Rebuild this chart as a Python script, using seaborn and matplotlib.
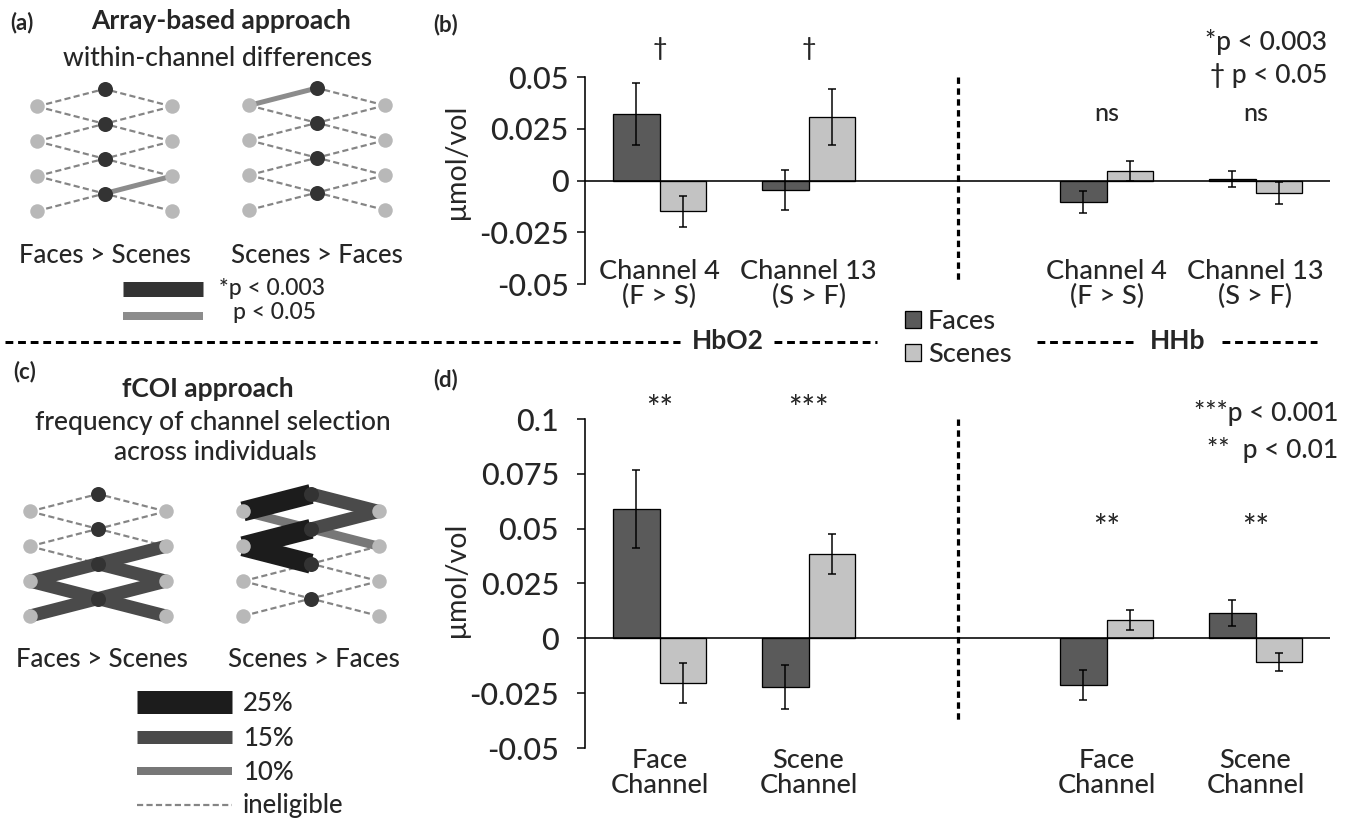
import matplotlib
matplotlib.use("Agg")
import matplotlib.pyplot as plt
import pandas as pd
import seaborn as sns

# ---------------- data ----------------
conditions = ["Faces", "Scenes"]

# (b) array-based approach
b_groups = ["HbO2 Ch4", "HbO2 Ch13", "HHb Ch4", "HHb Ch13"]
b_labels = ["Channel 4\n(F > S)", "Channel 13\n(S > F)", "Channel 4\n(F > S)", "Channel 13\n(S > F)"]
b_faces = [0.0322, -0.0045, -0.0104, 0.0008]
b_faces_err = [0.0151, 0.0096, 0.0054, 0.0038]
b_scenes = [-0.0149, 0.0306, 0.0045, -0.0060]
b_scenes_err = [0.0075, 0.0136, 0.0048, 0.0055]
b_marks = ["\u2020", "\u2020", "ns", "ns"]
b_yticks = [-0.05, -0.025, 0, 0.025, 0.05]
b_yticklabels = ["-0.05", "-0.025", "0", "0.025", "0.05"]

# (d) fCOI approach
d_groups = ["HbO2 Face", "HbO2 Scene", "HHb Face", "HHb Scene"]
d_labels = ["Face\nChannel", "Scene\nChannel", "Face\nChannel", "Scene\nChannel"]
d_faces = [0.0591, -0.0223, -0.0211, 0.0115]
d_faces_err = [0.0178, 0.0101, 0.0068, 0.0058]
d_scenes = [-0.0203, 0.0386, 0.0085, -0.0109]
d_scenes_err = [0.0091, 0.0091, 0.0046, 0.0041]
d_marks = ["**", "***", "**", "**"]
d_yticks = [-0.05, -0.025, 0, 0.025, 0.05, 0.075, 0.1]
d_yticklabels = ["-0.05", "-0.025", "0", "0.025", "0.05", "0.075", "0.1"]

# channel diagrams: 14 channels, each code per channel
# channel order: left side (grey row, dark row) then right side
a_faces_gt_scenes = ["", "", "", "", "", "", "",
                     "", "", "", "", "", "p<0.05", ""]
a_scenes_gt_faces = ["p<0.05", "", "", "", "", "", "",
                     "", "", "", "", "", "", ""]
c_faces_gt_scenes = [0, 0, 0, 0, 15, 15, 15,
                     0, 0, 0, 15, 15, 15, 15]
c_scenes_gt_faces = [25, 10, 25, 25, 0, 0, 0,
                     15, 15, 10, 0, 0, 0, 0]

# ---------------- style / layout ----------------
sns.set_theme(style="white")
plt.rcParams["font.family"] = ["Lato", "DejaVu Sans"]
plt.rcParams["font.weight"] = "medium"
plt.rcParams["axes.unicode_minus"] = False

W, H = 1354, 822
PX = 0.72  # points per pixel at dpi 100
fig = plt.figure(figsize=(W / 100, H / 100), dpi=100, facecolor="white")


def px_axes(x0, y0, x1, y1):
    return fig.add_axes([x0 / W, 1 - y1 / H, (x1 - x0) / W, (y1 - y0) / H])


ov = px_axes(0, 0, W, H)
ov.set_xlim(0, W)
ov.set_ylim(H, 0)
ov.axis("off")

BAR_W = 0.62
PALETTE = {"Faces": "#5a5a5a", "Scenes": "#c3c3c3"}


def bar_panel(box, groups, labels, faces, faces_err, scenes, scenes_err,
              marks, mark_y, yticks, yticklabels, ylim, ytick_pad, xtick_pad,
              ylabel_y, vline_bottom, legend=False):
    ax = px_axes(*box)
    ax.set_facecolor("none")
    slots = groups[:2] + ["gap"] + groups[2:]
    df = pd.DataFrame({
        "group": groups * 2,
        "condition": ["Faces"] * len(groups) + ["Scenes"] * len(groups),
        "value": faces + scenes,
        "err": faces_err + scenes_err,
    })
    sns.barplot(data=df, x="group", y="value", hue="condition", order=slots,
                hue_order=conditions, palette=PALETTE, saturation=1,
                width=BAR_W, edgecolor="black", linewidth=1.3 * PX,
                errorbar=None, legend=legend, ax=ax, zorder=2)
    offs = {"Faces": -BAR_W / 4, "Scenes": BAR_W / 4}
    for cond in conditions:
        sub = df[df["condition"] == cond]
        xs = [slots.index(g) + offs[cond] for g in sub["group"]]
        ax.errorbar(xs, sub["value"], yerr=sub["err"], fmt="none",
                    ecolor="black", elinewidth=1.5 * PX, capsize=3.2,
                    capthick=1.5 * PX, zorder=5)
    ax.axhline(0, color="black", lw=1.6 * PX, zorder=4)
    gap = slots.index("gap")
    ax.plot([gap, gap], [ylim[1], vline_bottom], color="black", lw=3.2 * PX,
            ls=(0, (2.0, 1.4)), zorder=3)
    pos = [slots.index(g) for g in groups]
    for p, m, y in zip(pos, marks, mark_y):
        fs = 23 if "*" in m else 18
        yy = y - (ylim[1] - ylim[0]) * 0.012 if "*" in m else y
        ax.text(p, yy, m, ha="center", va="center", fontsize=fs)
    ax.set_xlim(-0.5, 4.5)
    ax.set_ylim(*ylim)
    ax.set_yticks(yticks)
    ax.set_yticklabels(yticklabels, fontsize=22)
    ax.set_xticks(pos)
    ax.set_xticklabels(labels, fontsize=19.5)
    for t in ax.get_xticklabels():
        t.set_linespacing(1.0)
    ax.tick_params(axis="y", left=True, direction="out", length=8 * PX,
                   width=1.5 * PX, color="black", pad=ytick_pad)
    ax.tick_params(axis="x", bottom=True, length=0, pad=xtick_pad)
    for s in ["top", "right", "bottom"]:
        ax.spines[s].set_visible(False)
    ax.spines["left"].set_color("black")
    ax.spines["left"].set_linewidth(1.6 * PX)
    ax.set_xlabel("")
    ax.set_ylabel("\u03bcmol/vol", fontsize=20.5, va="center")
    ax.yaxis.set_label_coords(-0.172, ylabel_y)
    return ax


ax_b = bar_panel((585, 77, 1330, 284), b_groups, b_labels, b_faces, b_faces_err,
                 b_scenes, b_scenes_err, b_marks, [0.064, 0.064, 0.0325, 0.0325],
                 b_yticks, b_yticklabels, (-0.05, 0.05), 6, -18, 0.59, -0.05,
                 legend=True)
ax_d = bar_panel((585, 419, 1330, 748), d_groups, d_labels, d_faces, d_faces_err,
                 d_scenes, d_scenes_err, d_marks, [0.106, 0.106, 0.0515, 0.0515],
                 d_yticks, d_yticklabels, (-0.05, 0.1), 13, 0, 0.51, -0.038)

sns.move_legend(ax_b, loc="upper left", bbox_to_anchor=(905 / W, 1 - 309 / H),
                bbox_transform=fig.transFigure, frameon=False, title=None,
                fontsize=19.5, handlelength=0.6, handleheight=0.6,
                handletextpad=0.25, labelspacing=0.3, borderpad=0,
                borderaxespad=0)

# ---------------- channel diagrams ----------------
CHANNELS = [("L", 0, 0), ("L", 0, 1), ("L", 1, 1), ("L", 1, 2), ("L", 2, 2),
            ("L", 2, 3), ("L", 3, 3), ("R", 0, 0), ("R", 0, 1), ("R", 1, 1),
            ("R", 1, 2), ("R", 2, 2), ("R", 2, 3), ("R", 3, 3)]
SIDE_X = {"L": 0, "R": 2}

A_STYLE = {"p<0.05": ("#8c8c8c", 5, 1), "p<0.003": ("#333333", 8, 2)}
C_STYLE = {10: ("#777777", 9, 1), 15: ("#4a4a4a", 13, 2), 25: ("#1c1c1c", 20, 3)}


def diagram(xl, xr, ytop, ybot, codes, styles):
    m = 25
    ax = px_axes(xl - m, ytop - m, xr + m, ybot + m)
    sx = (xr - xl) / 2
    sy = (ybot - ytop) / 3.5
    ax.set_xlim(-m / sx, 2 + m / sx)
    ax.set_ylim(3.5 + m / sy, -m / sy)
    ax.axis("off")
    for (side, g, d), code in zip(CHANNELS, codes):
        xs = [SIDE_X[side], 1]
        ys = [g + 0.5, d]
        if code in styles:
            col, lw, z = styles[code]
            ax.plot(xs, ys, color=col, lw=lw * PX, solid_capstyle="butt",
                    zorder=2 + z)
        else:
            ax.plot(xs, ys, color="#858585", lw=2.2 * PX, ls=(0, (2.8, 1.5)),
                    zorder=1)
    rows = [0, 1, 2, 3]
    for sx_ in (0, 2):
        ax.plot([sx_] * 4, [r + 0.5 for r in rows], "o", color="#b8b8b8",
                ms=14.5 * PX, mec="none", zorder=10)
    ax.plot([1] * 4, rows, "o", color="#333333", ms=15 * PX, mec="none",
            zorder=10)
    return ax


diagram(37, 172, 89, 211, a_faces_gt_scenes, A_STYLE)
diagram(249, 385, 88, 210, a_scenes_gt_faces, A_STYLE)
diagram(30, 166, 494, 616, c_faces_gt_scenes, C_STYLE)
diagram(243, 379, 494, 616, c_scenes_gt_faces, C_STYLE)

# ---------------- figure text & decorations ----------------
T = dict(va="center")
ov.text(10, 23, "(a)", fontsize=16, fontweight="bold", ha="left", **T)
ov.text(221, 21, "Array-based approach", fontsize=19, fontweight="bold", ha="center", **T)
ov.text(218, 58, "within-channel differences", fontsize=19, ha="center", **T)
ov.text(105, 255, "Faces > Scenes", fontsize=18.5, ha="center", **T)
ov.text(317, 255, "Scenes > Faces", fontsize=18.5, ha="center", **T)
ov.plot([123, 203], [289, 289], color="#333333", lw=15 * PX, solid_capstyle="butt")
ov.plot([123, 203], [316, 316], color="#8c8c8c", lw=8 * PX, solid_capstyle="butt")
ov.text(219, 288, "*p < 0.003", fontsize=16.5, ha="left", **T)
ov.text(233, 312, "p < 0.05", fontsize=16.5, ha="left", **T)

ov.text(13, 372, "(c)", fontsize=16, fontweight="bold", ha="left", **T)
ov.text(208, 389, "fCOI approach", fontsize=19, fontweight="bold", ha="center", **T)
ov.text(213, 422, "frequency of channel selection", fontsize=19, ha="center", **T)
ov.text(215, 452, "across individuals", fontsize=19, ha="center", **T)
ov.text(102, 659, "Faces > Scenes", fontsize=18.5, ha="center", **T)
ov.text(314, 659, "Scenes > Faces", fontsize=18.5, ha="center", **T)
for y, lvl in zip([702, 737, 771], [25, 15, 10]):
    col, lw, _ = C_STYLE[lvl]
    lw_leg = {25: 23, 15: 13, 10: 8}[lvl]
    ov.plot([137, 232], [y, y], color=col, lw=lw_leg * PX, solid_capstyle="butt")
    ov.text(243, y + 1, f"{lvl}%", fontsize=18.5, ha="left", **T)
ov.plot([137, 232], [805, 805], color="#858585", lw=2.2 * PX, ls=(0, (2.8, 1.5)))
ov.text(243, 805, "ineligible", fontsize=18.5, ha="left", **T)

ov.text(433, 25, "(b)", fontsize=16, fontweight="bold", ha="left", **T)
ov.text(433, 380, "(d)", fontsize=16, fontweight="bold", ha="left", **T)
ov.text(1327, 42, "*p < 0.003", fontsize=19, ha="right", **T)
ov.text(1327, 75, "\u2020 p < 0.05", fontsize=19, ha="right", **T)
ov.text(1338, 413, "***p < 0.001", fontsize=19, ha="right", **T)
ov.text(1338, 450, "**  p < 0.01", fontsize=19, ha="right", **T)

SEP = dict(color="black", lw=3 * PX, ls=(0, (2.6, 1.6)))
for x0, x1 in [(5, 680), (774, 877), (1037, 1137), (1222, 1317)]:
    ov.plot([x0, x1], [342, 342], **SEP)
ov.text(728, 341, "HbO2", fontsize=19, fontweight="bold", ha="center", **T)
ov.text(1178, 341, "HHb", fontsize=19, fontweight="bold", ha="center", **T)

fig.savefig("out.png", dpi=100, facecolor="white")
